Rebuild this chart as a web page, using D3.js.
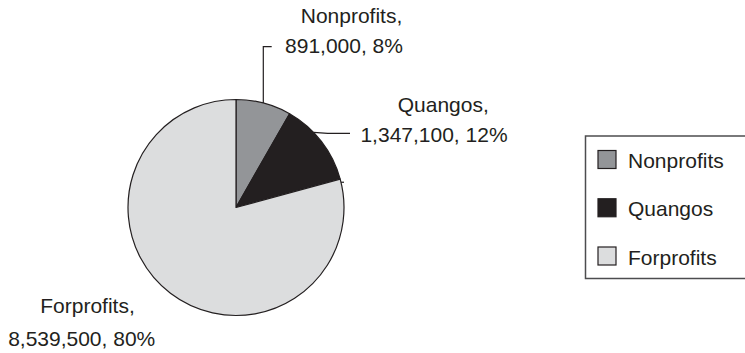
<!DOCTYPE html>
<html>
<head>
<meta charset="utf-8">
<script src="https://cdn.jsdelivr.net/npm/d3@7"></script>
<style>
  html, body { margin: 0; padding: 0; background: #fff; }
  svg { display: block; }
  text { font-family: "Liberation Sans", Arial, Helvetica, sans-serif; fill: #231f20; }
</style>
</head>
<body>
<svg id="chart" width="745" height="353"></svg>
<script>
// Organisations by sector
const categories = ["Nonprofits", "Quangos", "Forprofits"];
const values = [891000, 1347100, 8539500];
const percentLabels = ["8%", "12%", "80%"];
const fills = ["#939598", "#231f20", "#dcddde"];

const svg = d3.select("#chart");
const W = 745, H = 353;
const cx = 236, cy = 207.5, radius = 108;
const fontSize = 21;

const data = categories.map((c, i) => ({ name: c, value: values[i], pct: percentLabels[i], fill: fills[i] }));

const pie = d3.pie().value(d => d.value).sort(null);
const arcs = pie(data);
const arc = d3.arc().innerRadius(0).outerRadius(radius);

const g = svg.append("g").attr("transform", `translate(${cx},${cy})`);
g.selectAll("path.slice")
  .data(arcs)
  .join("path")
  .attr("class", "slice")
  .attr("d", arc)
  .attr("fill", d => d.data.fill)
  .attr("stroke", "#231f20")
  .attr("stroke-width", 1.2)
  .attr("stroke-linejoin", "round");

// Point on the rim at a given angle (radians, clockwise from 12 o'clock)
const rim = (a, r = radius) => [Math.sin(a) * r, -Math.cos(a) * r];

// Leader lines, anchored on the rim of each slice
const fmt = d3.format(",");
const leaders = g.append("g")
  .attr("fill", "none")
  .attr("stroke", "#231f20")
  .attr("stroke-width", 1.2);

// Nonprofits: straight up, then a short step right
{
  const a = Math.asin(27.3 / radius);
  const [x0, y0] = rim(a);
  leaders.append("path").attr("d", `M${x0},${y0} V${46.7 - cy} H${271.7 - cx}`);
}
// Quangos: short diagonal, then horizontal
{
  const a = arcs[1].startAngle + (arcs[1].endAngle - arcs[1].startAngle) * 0.36;
  const [x0, y0] = rim(a);
  leaders.append("path").attr("d", `M${x0},${y0} L${327.7 - cx},${133.3 - cy} H${350 - cx}`);
}
// Forprofits: small stub on the rim
{
  const a = arcs[2].startAngle + 0.03;
  const [x0, y0] = rim(a);
  leaders.append("path").attr("d", `M${x0},${y0} h3`);
}

// Slice labels: name on the first line, value and share on the second
const labelPos = [
  { l1: [351.5, 23.3], l2: [344, 53.3] },
  { l1: [443.3, 111.7], l2: [434, 142.3] },
  { l1: [87.5, 313.3], l2: [81.7, 345.7] }
];
data.forEach((d, i) => {
  const p = labelPos[i];
  svg.append("text")
    .attr("x", p.l1[0]).attr("y", p.l1[1])
    .attr("text-anchor", "middle")
    .attr("font-size", fontSize)
    .text(d.name + ",");
  svg.append("text")
    .attr("x", p.l2[0]).attr("y", p.l2[1])
    .attr("text-anchor", "middle")
    .attr("font-size", fontSize)
    .text(fmt(d.value) + ", " + d.pct);
});

// Legend (box runs off the right edge)
const legend = svg.append("g");
legend.append("path")
  .attr("d", `M${W + 5},136 H585.5 V278.5 H${W + 5}`)
  .attr("fill", "none")
  .attr("stroke", "#4d4d4f")
  .attr("stroke-width", 1.5);

const rowY = d3.scalePoint().domain(categories).range([150.5, 247]);
const rows = legend.selectAll("g.row")
  .data(data)
  .join("g")
  .attr("class", "row")
  .attr("transform", d => `translate(598,${rowY(d.name)})`);
rows.append("rect")
  .attr("width", 18).attr("height", 18)
  .attr("fill", d => d.fill)
  .attr("stroke", "#231f20")
  .attr("stroke-width", 1.2);
rows.append("text")
  .attr("x", 30).attr("y", 17.5)
  .attr("font-size", fontSize)
  .text(d => d.name);
</script>
</body>
</html>
